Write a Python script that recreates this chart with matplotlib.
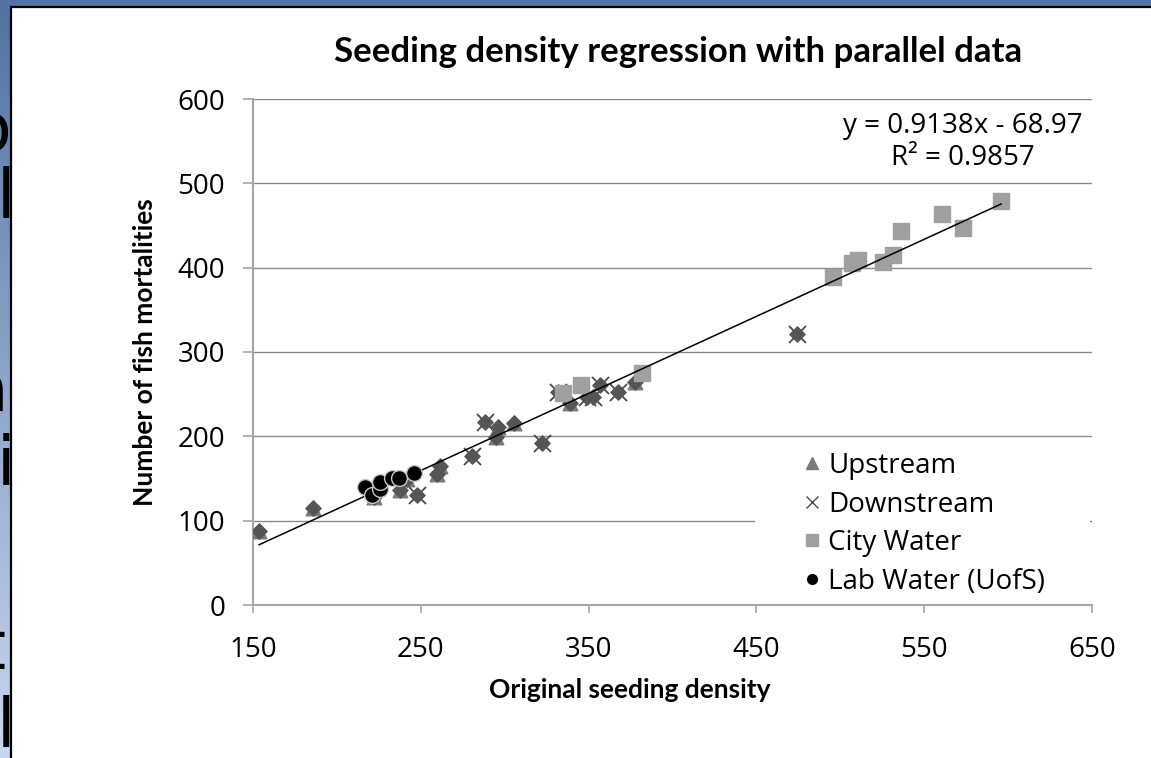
import numpy as np
import matplotlib.pyplot as plt
from matplotlib.patches import Rectangle
from matplotlib.lines import Line2D
from matplotlib.colors import LinearSegmentedColormap

# values
upstream_x = [153.6, 186, 222, 237.6, 241.8, 259.6, 261.4, 295, 296, 305.5, 339, 377.6]
upstream_y = [88, 115, 128, 136, 149, 155, 165, 199, 211, 216, 239, 265]

downstream_x = [248, 280.5, 288, 322.5, 331.5, 349, 352.6, 356.8, 367.5, 474.2]
downstream_y = [130, 177, 217, 192, 252, 247, 247, 261, 252, 321]

city_x = [334.7, 345.5, 381.8, 495.6, 507, 510.5, 525.4, 531.4, 536, 560.6, 573, 595.8]
city_y = [251, 261, 275, 389, 406, 409, 407, 415, 444, 464, 447, 479]

lab_x = [216.5, 221, 225.7, 225.7, 232.8, 237, 246]
lab_y = [140, 130, 137, 146, 151, 150.5, 157]

slope = 0.9138
intercept = -68.97
r2 = 0.9857

x_ticks = [150, 250, 350, 450, 550, 650]
y_ticks = [0, 100, 200, 300, 400, 500, 600]

W, H = 1151, 758
fig = plt.figure(figsize=(W / 100, H / 100), dpi=100)

# slide background behind the chart (blue gradient)
bg = fig.add_axes([0, 0, 1, 1], zorder=-2)
grad = np.linspace(0, 1, 256).reshape(-1, 1)
cmap = LinearSegmentedColormap.from_list('slide', ['#5273a3', '#c8d6ee'])
bg.imshow(grad, aspect='auto', cmap=cmap, extent=[0, 1, 1, 0])
bg.set_axis_off()

# clipped slide text peeking out at the left edge
for ch, px, py in [('o', -9, 132), ('l', 6, 199), ('a', -12, 392),
                   ('i', 6, 466), ('t', -8, 650), ('l', 6, 728)]:
    fig.text(px / W, 1 - py / H, ch, fontsize=48, color='black',
             ha='center', va='center', family='DejaVu Sans', zorder=1)

# white chart area with black frame
fig.patches.append(Rectangle((11 / W, -0.01), 1.02, (H - 7) / H + 0.01,
                             transform=fig.transFigure, facecolor='white',
                             edgecolor='black', linewidth=1.6, zorder=2))

ax = fig.add_axes([253 / W, 1 - 605 / H, (1092 - 253) / W, (605 - 99) / H], zorder=5)
ax.set_facecolor('white')

# trendline
all_x = upstream_x + downstream_x + city_x + lab_x
xs = np.array([min(all_x), max(all_x)])
ax.plot(xs, slope * xs + intercept, color='black', linewidth=1.1, zorder=6)

ax.scatter(upstream_x, upstream_y, marker='^', s=110, color='#7a7a7a', zorder=3)
ax.scatter(downstream_x, downstream_y, marker='x', s=150, color='#4a4a4a', linewidths=1.3, zorder=3)
ax.scatter(upstream_x + downstream_x, upstream_y + downstream_y, marker='D', s=60,
           color='#555555', zorder=4)
ax.scatter(city_x, city_y, marker='s', s=130, color='#a0a0a0', zorder=5)
ax.scatter(lab_x, lab_y, marker='o', s=130, color='black', edgecolors='#c8c8c8',
           linewidths=1, zorder=7)

ax.set_xlim(150, 650)
ax.set_ylim(0, 600)
ax.set_xticks(x_ticks)
ax.set_yticks(y_ticks)
ax.grid(axis='y', color='#8a8a8a', linewidth=1)
ax.set_axisbelow(True)
for s in ['top', 'right']:
    ax.spines[s].set_visible(False)
for s in ['left', 'bottom']:
    ax.spines[s].set_color('#a6a6a6')
    ax.spines[s].set_linewidth(1.5)
ax.tick_params(axis='y', length=7, width=1.2, color='#a6a6a6', pad=13,
               labelsize=20)
ax.tick_params(axis='x', length=6, width=1.2, color='#a6a6a6', pad=16,
               labelsize=20)
for lab in ax.get_xticklabels() + ax.get_yticklabels():
    lab.set_family('Open Sans')

bold = ['Lato', 'DejaVu Sans']
ax.set_xlabel('Original seeding density', fontsize=19, fontweight='bold', family=bold)
ax.xaxis.label.set_va('center')
ax.xaxis.set_label_coords((630 - 253) / 839, (605 - 690) / 506)
ax.set_ylabel('Number of fish mortalities', fontsize=19, fontweight='bold', family=bold)
ax.yaxis.label.set_va('center')
ax.yaxis.set_label_coords((145 - 253) / 839, 0.5)
fig.text(678 / W, 1 - 52 / H, 'Seeding density regression with parallel data',
         fontsize=25, fontweight='bold', family=bold, ha='center', va='center',
         zorder=6)

ax.text(573, 549, 'y = 0.9138x - 68.97\nR\u00b2 = %.4f' % r2, ha='center', va='center',
        fontsize=20, family='Open Sans', linespacing=1.2, zorder=9)

# white legend area hides the gridline behind it
ax.add_patch(Rectangle(((755 - 253) / 839, 0.006), (1090 - 755) / 839, 0.31,
                       transform=ax.transAxes, facecolor='white', edgecolor='none',
                       zorder=2))

handles = [
    Line2D([], [], linestyle='none', marker='^', markersize=9, color='#7a7a7a'),
    Line2D([], [], linestyle='none', marker='x', markersize=9, color='#4a4a4a', markeredgewidth=1),
    Line2D([], [], linestyle='none', marker='s', markersize=9, color='#a0a0a0'),
    Line2D([], [], linestyle='none', marker='o', markersize=7, color='black'),
]
leg = ax.legend(handles, ['Upstream', 'Downstream', 'City Water', 'Lab Water (UofS)'],
                loc='upper left', bbox_to_anchor=((802 - 253) / 839, (605 - 452) / 506),
                frameon=False, prop={'family': 'Open Sans', 'size': 20},
                handlelength=0.7, handletextpad=0.25, labelspacing=0.38,
                borderpad=0, borderaxespad=0)
leg.set_zorder(8)

fig.savefig('out.png', dpi=100)
